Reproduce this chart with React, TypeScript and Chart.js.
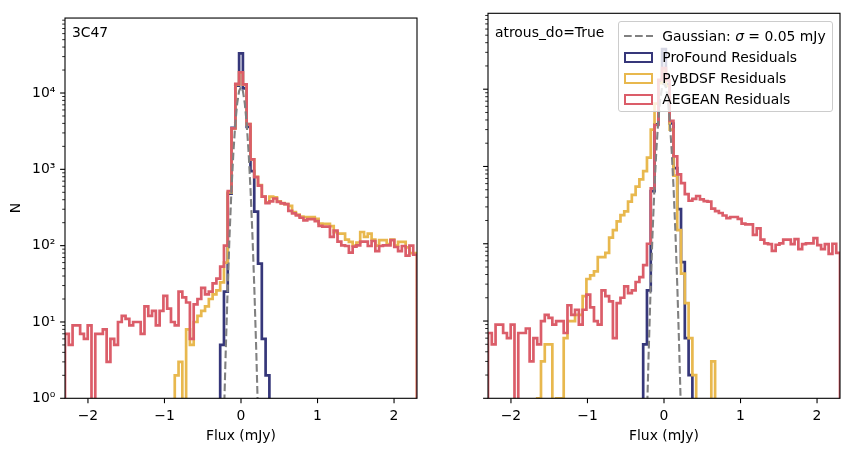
import React, { useEffect, useRef } from "react";
import Chart from "chart.js/auto";

// histogram range and binning (93 bins, centred on 0)
const X_MIN = -2.3;
const X_MAX = 2.3;
const BIN_COUNT = 93;
const Y_MIN = 1;
const Y_MAX = 96000;
const EMPTY = 0.01; // empty bins fall off the bottom of the log axis

const xTickValues = [-2, -1, 0, 1, 2];
const decades = [1, 10, 100, 1000, 10000];
const minorSteps = [1, 2, 3, 4, 5, 6, 7, 8, 9];
const yTickValues = decades.flatMap(d => minorSteps.map(m => d * m));

// counts per bin, bin -46 ... bin +46
const aegeanCounts = [
  7, 5, 9, 9, 7, 6, 9, 0, 7, 7,
  8, 3, 6, 5, 10, 12, 11, 9, 10, 10,
  7, 16, 12, 14, 9, 14, 22, 15, 10, 9,
  25, 21, 18, 6, 17, 20, 28, 23, 25, 32,
  37, 53, 100, 520, 3440, 13200, 18700, 13000, 3900, 1350,
  790, 610, 440, 360, 380, 415, 375, 357, 350, 285,
  265, 250, 232, 215, 222, 222, 210, 182, 178, 178,
  130, 158, 113, 101, 99, 81, 97, 101, 113, 113,
  99, 115, 85, 99, 101, 101, 118, 96, 85, 99,
  74, 100, 76,
];

const profoundCounts = [
  0, 0, 0, 0, 0, 0, 0, 0, 0, 0,
  0, 0, 0, 0, 0, 0, 0, 0, 0, 0,
  0, 0, 0, 0, 0, 0, 0, 0, 0, 0,
  0, 0, 0, 0, 0, 0, 0, 0, 0, 0,
  0, 5, 25, 480, 3500, 12500, 33000, 11500, 3600, 950,
  280, 58, 6, 2, 0, 0, 0, 0, 0, 0,
  0, 0, 0, 0, 0, 0, 0, 0, 0, 0,
  0, 0, 0, 0, 0, 0, 0, 0, 0, 0,
  0, 0, 0, 0, 0, 0, 0, 0, 0, 0,
  0, 0, 0,
];

const pybdsfCounts3C47 = [
  0, 0, 0, 0, 0, 0, 0, 0, 0, 0,
  0, 0, 0, 0, 0, 0, 0, 0, 0, 0,
  0, 0, 0, 0, 0, 0, 0, 0, 0, 2,
  3, 0, 8, 5, 10, 12, 14, 16, 20, 23,
  26, 33, 60, 500, 3400, 13000, 18500, 12900, 3900, 1350,
  800, 620, 440, 370, 440, 430, 380, 360, 350, 333,
  275, 255, 240, 236, 236, 236, 225, 195, 193, 193,
  180, 150, 144, 144, 120, 112, 100, 110, 151, 130,
  144, 120, 100, 118, 118, 105, 120, 100, 112, 112,
  95, 80, 80,
];

const pybdsfCountsAtrous = [
  0, 0, 0, 0, 0, 0, 0, 0, 0, 0,
  0, 0, 0, 1, 3, 5, 5, 0, 1, 1,
  6, 10, 10, 12, 12, 21, 35, 39, 44, 67,
  67, 76, 120, 150, 195, 235, 262, 350, 430, 550,
  680, 870, 1300, 3000, 6500, 12000, 17500, 11000, 3000, 760,
  150, 41, 17, 6, 2, 0, 0, 0, 0, 3,
  0, 0, 0, 0, 0, 0, 0, 0, 0, 0,
  0, 0, 0, 0, 0, 0, 0, 0, 0, 0,
  0, 0, 0, 0, 0, 0, 0, 0, 0, 0,
  0, 0, 0,
];

// dashed Gaussian reference curve
const gaussX = [
  -0.25, -0.225, -0.2, -0.175, -0.15, -0.125, -0.1, -0.075, -0.05, -0.025, 0,
  0.025, 0.05, 0.075, 0.1, 0.125, 0.15, 0.175, 0.2, 0.225, 0.25,
];
const gaussN = [
  0.045, 0.48, 4.0, 26, 133, 527, 1624, 3900, 7280, 10590, 12000,
  10590, 7280, 3900, 1624, 527, 133, 26, 4.0, 0.48, 0.045,
];

const BLUE = "#36377a";
const YELLOW = "#e8b84e";
const RED = "#db5d69";
const GREY = "#808080";
const FONT_FAMILY = "'DejaVu Sans', sans-serif";
const FONT_SIZE = 13.9;

const binEdges = Array.from({ length: BIN_COUNT + 1 }, (_, i) => X_MIN + (i * (X_MAX - X_MIN)) / BIN_COUNT);

function stepPoints(counts: number[]) {
  const pts = [{ x: binEdges[0], y: EMPTY }];
  counts.forEach((c, i) => pts.push({ x: binEdges[i], y: c > 0 ? c : EMPTY }));
  pts.push({ x: binEdges[BIN_COUNT], y: EMPTY });
  return pts;
}

const isDecade = (v: number) => Math.abs(Math.log10(v) - Math.round(Math.log10(v))) < 1e-9;
const supDigits = ["⁰", "¹", "²", "³", "⁴", "⁵", "⁶", "⁷", "⁸", "⁹"];

// matplotlib-like spines and outward tick marks
const axesFrame = {
  id: "axesFrame",
  afterDraw(chart: any) {
    const { ctx, chartArea: a } = chart;
    const xs = chart.scales.x;
    const ys = chart.scales.y;
    ctx.save();
    ctx.strokeStyle = "#000";
    yTickValues.forEach(v => {
      const y = ys.getPixelForValue(v);
      const major = isDecade(v);
      ctx.lineWidth = major ? 1.1 : 0.83;
      ctx.beginPath();
      ctx.moveTo(a.left - (major ? 4.9 : 2.8), y);
      ctx.lineTo(a.left, y);
      ctx.stroke();
    });
    ctx.lineWidth = 1.1;
    xTickValues.forEach(v => {
      const x = xs.getPixelForValue(v);
      ctx.beginPath();
      ctx.moveTo(x, a.bottom);
      ctx.lineTo(x, a.bottom + 4.9);
      ctx.stroke();
    });
    ctx.strokeRect(a.left, a.top, a.right - a.left, a.bottom - a.top);
    ctx.restore();
  },
};

type PanelProps = {
  pybdsf: number[];
  yAxisWidth: number;
  rightPad: number;
  showYLabels: boolean;
};

const Panel: React.FC<PanelProps> = ({ pybdsf, yAxisWidth, rightPad, showYLabels }) => {
  const canvas = useRef<HTMLCanvasElement>(null);

  useEffect(() => {
    const font = { family: FONT_FAMILY, size: FONT_SIZE };
    const hist = {
      stepped: "before" as const,
      borderWidth: 2.7,
      pointRadius: 0,
      fill: false,
      clip: 0,
      borderJoinStyle: "miter" as const,
    };
    const chart = new Chart(canvas.current!.getContext("2d")!, {
      type: "line",
      data: {
        datasets: [
          {
            label: "Gaussian",
            data: gaussX.map((x, i) => ({ x, y: gaussN[i] })),
            borderColor: GREY,
            borderWidth: 2.1,
            borderDash: [7.7, 3.3],
            pointRadius: 0,
            fill: false,
            clip: 0,
            order: 0,
          },
          { label: "AEGEAN Residuals", data: stepPoints(aegeanCounts), borderColor: RED, order: 1, ...hist },
          { label: "PyBDSF Residuals", data: stepPoints(pybdsf), borderColor: YELLOW, order: 2, ...hist },
          { label: "ProFound Residuals", data: stepPoints(profoundCounts), borderColor: BLUE, order: 3, ...hist },
        ] as any,
      },
      options: {
        animation: false,
        responsive: true,
        maintainAspectRatio: false,
        events: [],
        layout: { padding: { top: 13.3, right: rightPad, bottom: 0, left: 0 } },
        plugins: { legend: { display: false }, tooltip: { enabled: false } },
        scales: {
          x: {
            type: "linear",
            min: X_MIN,
            max: X_MAX,
            afterFit: (s: any) => {
              s.height = 52.7;
            },
            afterBuildTicks: (s: any) => {
              s.ticks = xTickValues.map(v => ({ value: v }));
            },
            grid: { display: false, drawTicks: false },
            border: { display: false },
            ticks: {
              autoSkip: false,
              maxRotation: 0,
              padding: 9.7,
              color: "#000",
              font,
              callback: (v: any) => (v < 0 ? "\u2212" + Math.abs(v) : String(v)),
            },
            title: { display: true, text: "Flux (mJy)", color: "#000", font, padding: { top: 0, bottom: 6.2 } },
          },
          y: {
            type: "logarithmic",
            min: Y_MIN,
            max: Y_MAX,
            afterFit: (s: any) => {
              s.width = yAxisWidth;
            },
            afterBuildTicks: (s: any) => {
              s.ticks = yTickValues.map(v => ({ value: v }));
            },
            grid: { display: false, drawTicks: false },
            border: { display: false },
            ticks: {
              display: showYLabels,
              autoSkip: false,
              padding: 9.7,
              color: "#000",
              font,
              callback: (v: any) => (isDecade(v) ? "10" + supDigits[Math.round(Math.log10(v))] : ""),
            },
            title: { display: showYLabels, text: "N", color: "#000", font, padding: { top: 7.7, bottom: 0 } },
          },
        },
      },
      plugins: [axesFrame],
    });

    return () => {
      chart.destroy();
    };
  }, [pybdsf, yAxisWidth, rightPad, showYLabels]);

  return <canvas ref={canvas}></canvas>;
};

const textStyle: React.CSSProperties = {
  position: "absolute",
  fontFamily: FONT_FAMILY,
  fontSize: FONT_SIZE,
  lineHeight: "16px",
  color: "#000",
  whiteSpace: "nowrap",
};

const rowCentres = [14.1, 35.4, 56.5, 77.5];
const patchRows = [
  { color: BLUE, label: "ProFound Residuals" },
  { color: YELLOW, label: "PyBDSF Residuals" },
  { color: RED, label: "AEGEAN Residuals" },
];

const Legend: React.FC = () => (
  <div
    style={{
      position: "absolute",
      left: 618.3,
      top: 20.7,
      width: 215,
      height: 91,
      boxSizing: "border-box",
      border: "1px solid #cccccc",
      borderRadius: 3,
      background: "rgba(255,255,255,0.8)",
    }}
  >
    <svg style={{ position: "absolute", left: 5, top: rowCentres[0] - 3 }} width={29} height={6}>
      <line x1={0} y1={3} x2={29} y2={3} stroke={GREY} strokeWidth={2.1} strokeDasharray="7.7 3.3" />
    </svg>
    <div style={{ ...textStyle, left: 43, top: rowCentres[0] - 8 }}>
      Gaussian: <i>σ</i> = 0.05 mJy
    </div>
    {patchRows.map((r, i) => (
      <React.Fragment key={r.label}>
        <div
          style={{
            position: "absolute",
            left: 5,
            top: rowCentres[i + 1] - 5.5,
            width: 29,
            height: 11,
            boxSizing: "border-box",
            border: `2.7px solid ${r.color}`,
          }}
        />
        <div style={{ ...textStyle, left: 43, top: rowCentres[i + 1] - 8 }}>{r.label}</div>
      </React.Fragment>
    ))}
  </div>
);

const App: React.FC = () => (
  <div style={{ position: "absolute", left: 0, top: 0, width: 853, height: 451, overflow: "hidden", background: "#fff" }}>
    <div style={{ position: "absolute", left: 0, top: 0, width: 426, height: 451 }}>
      <Panel pybdsf={pybdsfCounts3C47} yAxisWidth={65} rightPad={9} showYLabels={true} />
    </div>
    <div style={{ position: "absolute", left: 426, top: 0, width: 427, height: 451 }}>
      <Panel pybdsf={pybdsfCountsAtrous} yAxisWidth={62} rightPad={13} showYLabels={false} />
    </div>
    <div style={{ ...textStyle, left: 72, top: 24.2 }}>3C47</div>
    <div style={{ ...textStyle, left: 495, top: 24.2 }}>atrous_do=True</div>
    <Legend />
  </div>
);

export default App;
